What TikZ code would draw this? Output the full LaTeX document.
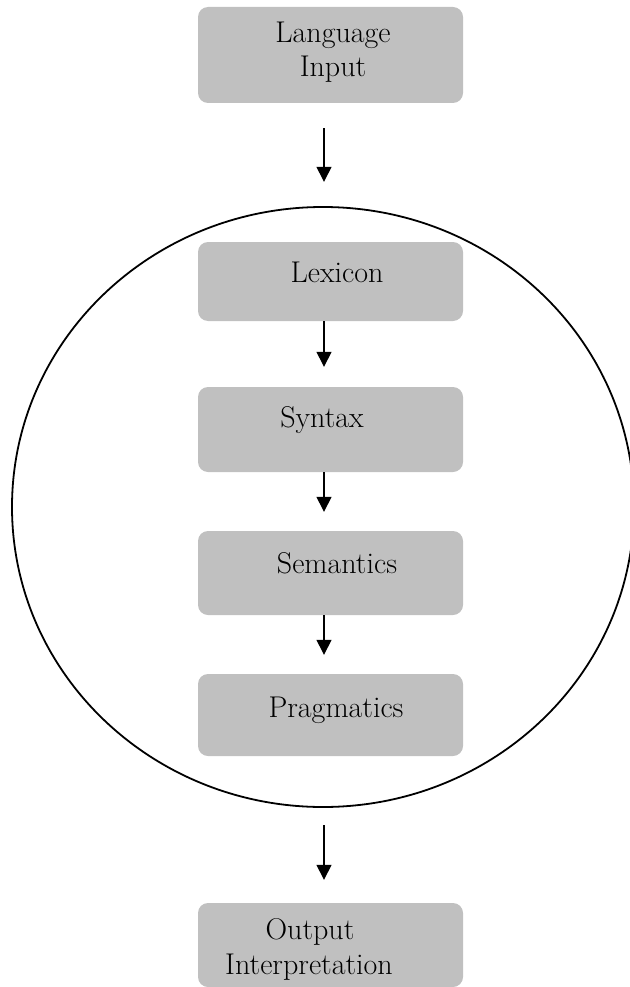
\documentclass[tikz,border=0pt]{standalone}
\usetikzlibrary{arrows.meta,shapes.geometric}
\begin{document}
\begin{tikzpicture}[x=1pt,y=-1pt,
  stage/.style={draw=none,fill=stagegray,rounded corners=10pt,minimum width=265pt,inner sep=0pt},
  lbl/.style={anchor=base,inner sep=0pt,font=\fontsize{30}{35}\selectfont},
  flow/.style={line width=1.4pt,-{Triangle[length=15pt,width=15pt]}},
  ring/.style={line width=1.8pt}]
\definecolor{stagegray}{HTML}{C0C0C0}
\useasboundingbox (0,0) rectangle (629,987);

% processing stages
\node[stage,minimum height=96pt] (lang) at (330.5,55) {};
\node[stage,minimum height=79pt] (lex) at (330.5,281.5) {};
\node[stage,minimum height=85pt] (syn) at (330.5,429.5) {};
\node[stage,minimum height=84pt] (sem) at (330.5,573) {};
\node[stage,minimum height=82pt] (prag) at (330.5,715) {};
\node[stage,minimum height=84pt] (out) at (330.5,945) {};

% stage labels
\node[lbl] (langA) at (333,43) {Language};
\node[lbl] (langB) at (333,77) {Input};
\node[lbl] (lexT) at (337,282) {Lexicon};
\node[lbl] (synT) at (322,427) {Syntax};
\node[lbl] (semT) at (337,573) {Semantics};
\node[lbl] (pragT) at (336,717) {Pragmatics};
\node[lbl] (outA) at (310,939) {Output};
\node[lbl] (outB) at (309,974) {Interpretation};

% the language faculty enclosing the inner stages
\node[ring,draw,ellipse,minimum width=622pt,minimum height=600pt,inner sep=0pt] (core) at (323,507) {};

% flow between stages
\draw[flow,shorten <=25pt,shorten >=60pt] ([xshift=-6.5pt]lang.south) -- ([xshift=-6.5pt]lex.north);
\draw[flow,shorten >=20pt] ([xshift=-6.5pt]lex.south) -- ([xshift=-6.5pt]syn.north);
\draw[flow,shorten >=19pt] ([xshift=-6.5pt]syn.south) -- ([xshift=-6.5pt]sem.north);
\draw[flow,shorten >=19pt] ([xshift=-6.5pt]sem.south) -- ([xshift=-6.5pt]prag.north);
\draw[flow,shorten <=69pt,shorten >=23pt] ([xshift=-6.5pt]prag.south) -- ([xshift=-6.5pt]out.north);
\end{tikzpicture}
\end{document}
